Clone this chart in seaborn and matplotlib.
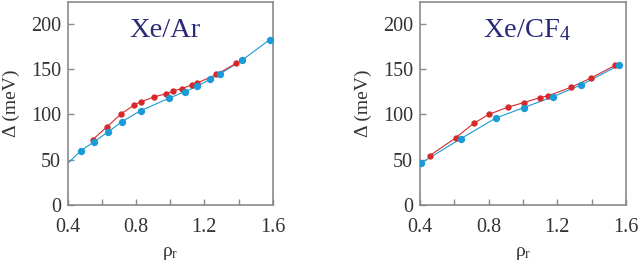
import matplotlib
matplotlib.use("Agg")

import matplotlib.pyplot as plt
import numpy as np
import pandas as pd
import seaborn as sns

# Xe/Ar panel
ar_blue_rho = [0.476, 0.556, 0.638, 0.718, 0.826, 0.995, 1.085, 1.159, 1.235, 1.290, 1.423, 1.583]
ar_blue_delta = [60, 70, 81, 92, 104, 118, 125, 131, 139, 144.5, 160, 182.5]
ar_blue_line_rho = [0.40] + ar_blue_rho
ar_blue_line_delta = [46] + ar_blue_delta
ar_red_rho = [0.545, 0.628, 0.712, 0.790, 0.829, 0.902, 0.978, 1.019, 1.069, 1.126, 1.157, 1.271, 1.388]
ar_red_delta = [72, 86, 100.5, 110.5, 114, 119, 123, 126, 128.5, 132.5, 134.5, 144, 156.5]

# Xe/CF4 panel
cf_blue_rho = [0.404, 0.637, 0.843, 1.006, 1.175, 1.340, 1.557]
cf_blue_delta = [46, 73, 96, 107.5, 119.5, 132.5, 154]
cf_red_rho = [0.458, 0.608, 0.713, 0.802, 0.913, 1.006, 1.099, 1.148, 1.282, 1.396, 1.536]
cf_red_delta = [54.5, 74, 90, 100, 108, 113, 118.5, 120.5, 130, 140, 154]

panel_titles = ["Xe/Ar", "Xe/CF$_\\mathrm{4}$"]
x_ticks = [0.4, 0.8, 1.2, 1.6]
y_ticks = [0, 50, 100, 150, 200]

RED = "#d6292b"
BLUE = "#1b9ad8"
GRAY = "#8a8a8a"

sns.set_style("ticks")
plt.rcParams["font.family"] = ["Liberation Serif", "DejaVu Serif"]
plt.rcParams["mathtext.fontset"] = "custom"
plt.rcParams["mathtext.rm"] = "Liberation Serif"
plt.rcParams["mathtext.it"] = "Liberation Serif:italic"

fig = plt.figure(figsize=(6.4, 2.63), dpi=100)
ax1 = fig.add_axes([0.106, 0.2205, 0.320, 0.772])
ax2 = fig.add_axes([0.656, 0.2205, 0.322, 0.772])

panels = [
    (ax1, ar_blue_line_rho, ar_blue_line_delta, ar_blue_rho, ar_blue_delta, ar_red_rho, ar_red_delta, 0.473),
    (ax2, cf_blue_rho, cf_blue_delta, cf_blue_rho, cf_blue_delta, cf_red_rho, cf_red_delta, 0.52),
]

for i, (ax, bl_x, bl_y, bx, by, rx, ry, tx) in enumerate(panels):
    sns.lineplot(x=bl_x, y=bl_y, ax=ax, color=BLUE, linewidth=0.8, sort=False)
    sns.lineplot(x=rx, y=ry, ax=ax, color=RED, linewidth=0.8, sort=False)
    sns.scatterplot(x=rx, y=ry, ax=ax, color=RED, s=21, linewidth=0, zorder=3)
    sns.scatterplot(x=bx, y=by, ax=ax, color=BLUE, s=28, linewidth=0, zorder=4)

    ax.set_xlim(0.4, 1.6)
    ax.set_ylim(0, 224)
    ax.set_xticks(x_ticks)
    ax.set_xticks([0.6, 1.0, 1.4], minor=True)
    ax.set_yticks(y_ticks)
    ax.set_xticklabels(["0.4", "0.8", "1.2", "1.6"])
    ax.tick_params(which="both", direction="in", length=4, width=1, color=GRAY,
                   labelsize=14.5, labelcolor="#333333")
    ax.tick_params(axis="x", pad=9)
    ax.tick_params(axis="y", pad=5)
    for sp in ax.spines.values():
        sp.set_color(GRAY)
        sp.set_linewidth(1.2)
    ax.set_xlabel("ρ$_\\mathrm{r}$", fontsize=14, color="#333333", labelpad=6)
    ax.set_ylabel("Δ (meV)", fontsize=14, color="#333333", labelpad=8)
    ax.text(tx, 193, panel_titles[i], transform=ax.get_yaxis_transform(),
            ha="center", va="center", fontsize=20.5, color="#2b2a78")

fig.savefig("out.png", dpi=100)
